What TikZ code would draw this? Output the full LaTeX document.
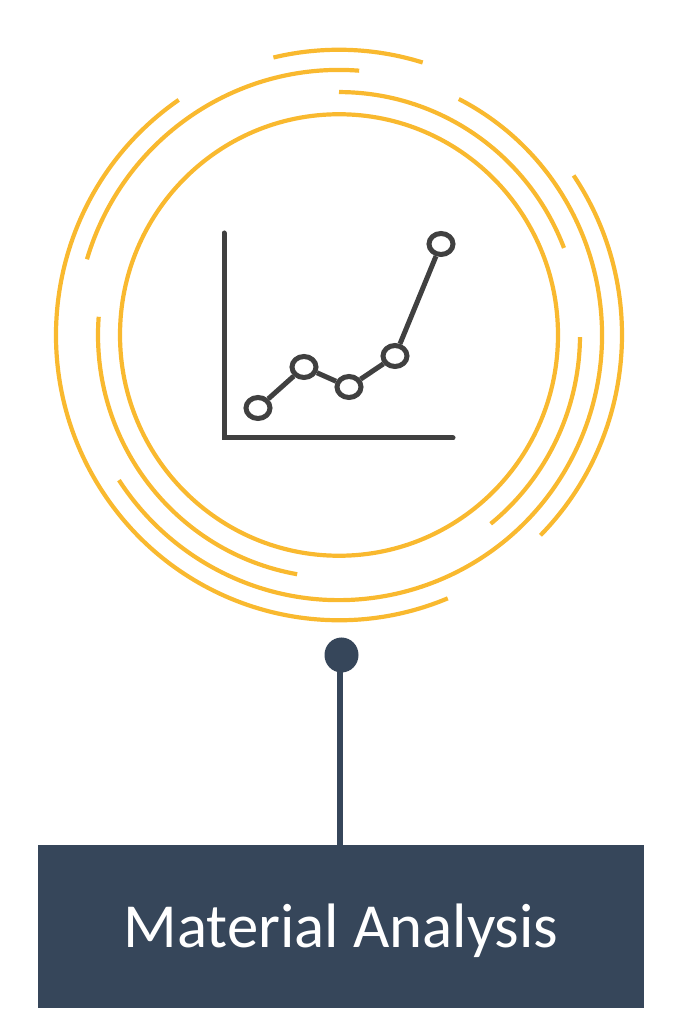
\documentclass[tikz,border=0pt]{standalone}
\usepackage{fontspec}
\setsansfont{Carlito}
\usetikzlibrary{shapes.geometric}
\definecolor{ringyellow}{HTML}{F9B92F}
\definecolor{slateblue}{HTML}{36465A}
\definecolor{chartgray}{HTML}{404040}
\tikzset{
  ringline/.style={draw=ringyellow,line width=4.2bp},
  chartline/.style={draw=chartgray,line width=5bp,line cap=round},
  datapt/.style={ellipse,draw=chartgray,line width=5bp,fill=white,inner sep=0pt,minimum width=24bp,minimum height=21bp},
  pindot/.style={ellipse,fill=slateblue,inner sep=0pt,minimum width=34bp,minimum height=35bp},
  titlebox/.style={fill=slateblue,text=white,inner sep=0pt,minimum width=606bp,minimum height=163bp,text height=56bp,text depth=13bp,font=\sffamily\fontsize{63}{70}\selectfont}
}
\begin{document}
\begin{tikzpicture}[x=1bp,y=1bp]
\useasboundingbox (0,0) rectangle (683,1024);
% rings
\begin{scope}[shift={(339,689)},yscale=1.008]
\draw[ringline] (0,0) circle (219);
\foreach \r/\a/\b in {241/90/21,241/-0.5/-51,241/175.7/260,263/163.4/85.6,263/62.9/-146.8,283/103.4/72.8,283/124.5/292.6,283/34/-44.6}
  \draw[ringline] (\a:\r) arc[start angle=\a,end angle=\b,radius=\r];
\end{scope}

% chart
\coordinate (top) at (224,791);
\coordinate (corner) at (224,586);
\coordinate (right) at (453,586);
\draw[chartline] (top) -- (corner) -- (right);
\node[datapt] (p1) at (258,616) {};
\node[datapt] (p2) at (304,657) {};
\node[datapt] (p3) at (349,637) {};
\node[datapt] (p4) at (395,668) {};
\node[datapt] (p5) at (441,780) {};
\foreach \s/\t in {p1/p2,p2/p3,p3/p4,p4/p5}
  \draw[chartline,line cap=butt] (\s) -- (\t);

% label
\node[titlebox] (title) at (341,97.5) {Material Analysis};
\node[pindot] (dot) at (341.5,369) {};
\coordinate (stem) at (340,360);
\draw[draw=slateblue,line width=5.4bp] (stem) -- (stem |- title.north);
\end{tikzpicture}
\end{document}
